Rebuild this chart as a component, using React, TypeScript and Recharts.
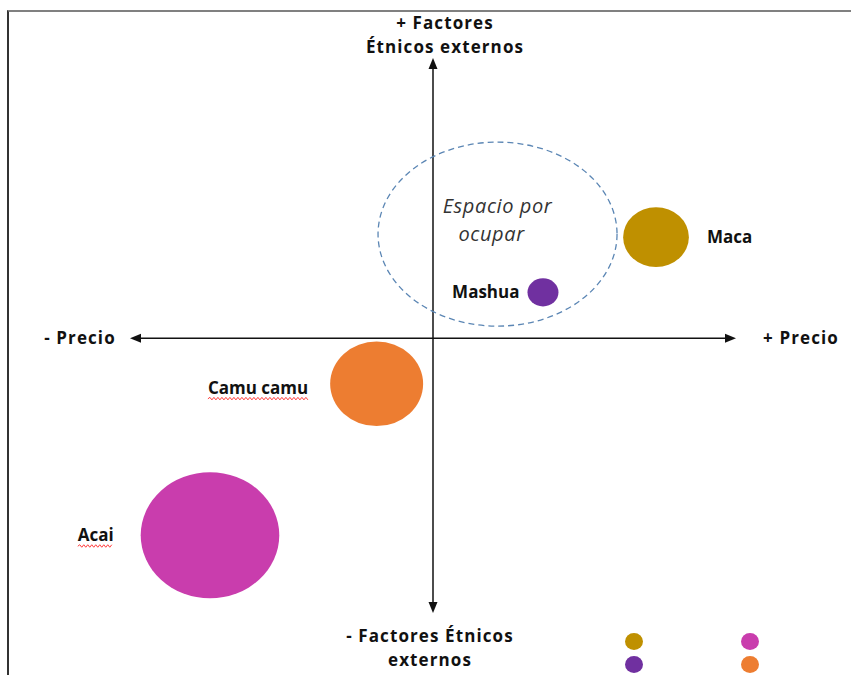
import React from 'react';
import {Legend, ReferenceDot, ReferenceLine, Scatter, ScatterChart, XAxis, YAxis, ZAxis} from "recharts";

// productos del mapa de posicionamiento
const PRODUCTS = ['Maca', 'Mashua', 'Camu camu', 'Acai'];
const PRECIO = [7.36, 3.63, -1.86, -7.36];
const FACTORES = [3.68, 1.67, -1.66, -7.17];
const TAMANO = [9, 2, 18, 40];
const COLORS = ['#BF9000', '#7030A0', '#ED7D31', '#C93DAD'];

// espacio libre marcado con el circulo punteado
const ESPACIO = {x: 2.13, y: 3.79};

const FONT = '"Open Sans", Lato, sans-serif';
const LABEL_OFFSET: Record<string, number> = {Maca: 18, Mashua: -8, 'Camu camu': -22, Acai: -27};
const SPELL = ['Camu camu', 'Acai'];

const data = PRODUCTS.map((name, i) => ({name, x: PRECIO[i], y: FACTORES[i], z: TAMANO[i]}));

let canvas: HTMLCanvasElement | null = null;
const measure = (txt: string, font: string) => {
    if (!canvas) canvas = document.createElement('canvas');
    const ctx = canvas.getContext('2d');
    if (!ctx) return txt.length * 9;
    ctx.font = font;
    return ctx.measureText(txt).width;
};

const wavy = (x0: number, x1: number, y: number) => {
    let d = `M${x0},${y}`;
    let up = true;
    for (let x = x0 + 2; x <= x1; x += 2) {
        d += ` L${x},${up ? y - 1.5 : y + 1}`;
        up = !up;
    }
    return d;
};

const Bubble = (props: any) => {
    const {cx, cy, fill, payload} = props;
    const r = props.width ? props.width / 2 : Math.sqrt(props.size / Math.PI);
    const rx = r * 1.1;
    const off = LABEL_OFFSET[payload.name] || 10;
    const tx = off > 0 ? cx + rx + off : cx - rx + off;
    const ty = cy + (payload.name === 'Camu camu' ? 4 : 0);
    const w = measure(payload.name, `700 17px "Open Sans"`);
    return (
        <g>
            <ellipse cx={cx} cy={cy} rx={rx} ry={r} fill={fill}/>
            <text x={tx} y={ty} dy="0.35em"
                  textAnchor={off > 0 ? 'start' : 'end'} fontFamily={FONT} fontWeight={700}
                  fontSize={17} fill="#111">
                {payload.name}
            </text>
            {SPELL.includes(payload.name) &&
                <path d={wavy(tx - w, tx, ty + 11)} fill="none" stroke="#ff3b3b" strokeWidth={1}/>}
        </g>
    );
};

const labelStyle = {fontFamily: FONT, fontWeight: 700, fontSize: 17, letterSpacing: 1.1, fill: '#111'};

const HorizontalAxis = (props: any) => {
    const {x1, x2, y1} = props;
    const l = Math.min(x1, x2), r = Math.max(x1, x2);
    return (
        <g>
            <line x1={l + 6} y1={y1} x2={r - 6} y2={y1} stroke="#111" strokeWidth={1.5}/>
            <polygon points={`${l},${y1} ${l + 11},${y1 - 4.5} ${l + 11},${y1 + 4.5}`} fill="#111"/>
            <polygon points={`${r},${y1} ${r - 11},${y1 - 4.5} ${r - 11},${y1 + 4.5}`} fill="#111"/>
            <text x={l - 50} y={y1} dy="0.35em" textAnchor="middle" {...labelStyle}>- Precio</text>
            <text x={r + 65} y={y1} dy="0.35em" textAnchor="middle" {...labelStyle}>+ Precio</text>
        </g>
    );
};

const VerticalAxis = (props: any) => {
    const {x1, y1, y2} = props;
    const t = Math.min(y1, y2), b = Math.max(y1, y2);
    return (
        <g>
            <line x1={x1} y1={t + 6} x2={x1} y2={b - 6} stroke="#111" strokeWidth={1.5}/>
            <polygon points={`${x1},${t} ${x1 - 4.5},${t + 11} ${x1 + 4.5},${t + 11}`} fill="#111"/>
            <polygon points={`${x1},${b} ${x1 - 4.5},${b - 11} ${x1 + 4.5},${b - 11}`} fill="#111"/>
            <text x={x1 + 12} y={t - 35} dy="0.35em" textAnchor="middle" {...labelStyle}>+ Factores</text>
            <text x={x1 + 12} y={t - 11} dy="0.35em" textAnchor="middle" {...labelStyle}>Étnicos externos</text>
            <text x={x1 - 3} y={b + 23} dy="0.35em" textAnchor="middle" {...labelStyle}>- Factores Étnicos</text>
            <text x={x1 - 3} y={b + 47} dy="0.35em" textAnchor="middle" {...labelStyle}>externos</text>
        </g>
    );
};

const EspacioShape = (props: any) => {
    const {cx, cy} = props;
    const st = {fontFamily: FONT, fontStyle: 'italic', fontSize: 20, letterSpacing: 0.6, fill: '#333'};
    return (
        <g>
            <ellipse cx={cx} cy={cy} rx={119.5} ry={92} fill="none" stroke="#5B86B4" strokeWidth={1.3}
                     strokeDasharray="6 4"/>
            <text x={cx} y={cy - 28} dy="0.35em" textAnchor="middle" {...st}>Espacio por</text>
            <text x={cx - 6} y={cy} dy="0.35em" textAnchor="middle" {...st}>ocupar</text>
        </g>
    );
};

const LegendDots = (props: any) => {
    const items = props.payload || [];
    const byName = (n: string) => items.find((p: any) => p.value === n);
    const cols = [['Maca', 'Mashua'], ['Acai', 'Camu camu']];
    return (
        <div style={{display: 'flex', gap: 98}}>
            {cols.map((col, ci) => (
                <div key={ci} style={{display: 'flex', flexDirection: 'column', gap: 6}}>
                    {col.map(n => {
                        const it = byName(n);
                        return <div key={n} style={{width: 18, height: 17, borderRadius: '50%',
                            background: it ? it.color : '#ccc'}}/>;
                    })}
                </div>
            ))}
        </div>
    );
};

const App = () => {
    return (
        <div style={{position: 'absolute', left: 0, top: 0, width: 851, height: 675, background: '#fff'}}>
            <div style={{position: 'absolute', left: 7, top: 10, right: 0, bottom: 0,
                borderTop: '2px solid #808080', borderLeft: '2px solid #333'}}/>
            <div style={{position: 'absolute', left: 0, top: 0}}>
                <ScatterChart width={851} height={675} margin={{top: 58, right: 115, bottom: 62, left: 130}}>
                    <XAxis type="number" dataKey="x" domain={[-10, 10]} hide/>
                    <YAxis type="number" dataKey="y" domain={[-10, 10.2]} hide/>
                    <ZAxis type="number" dataKey="z" domain={[0, 40]} range={[0, 12469]}/>
                    <ReferenceLine y={0} shape={HorizontalAxis}/>
                    <ReferenceLine x={0} shape={VerticalAxis}/>
                    <ReferenceDot x={ESPACIO.x} y={ESPACIO.y} r={1} shape={EspacioShape}/>
                    {data.map((d, i) => (
                        <Scatter key={d.name} name={d.name} data={[d]} fill={COLORS[i]} shape={Bubble}
                                 isAnimationActive={false}/>
                    ))}
                    <Legend content={LegendDots}
                            wrapperStyle={{position: 'absolute', left: 625, top: 633, width: 160, height: 0,
                                overflow: 'visible'}}/>
                </ScatterChart>
            </div>
        </div>
    );
};

export default App;
